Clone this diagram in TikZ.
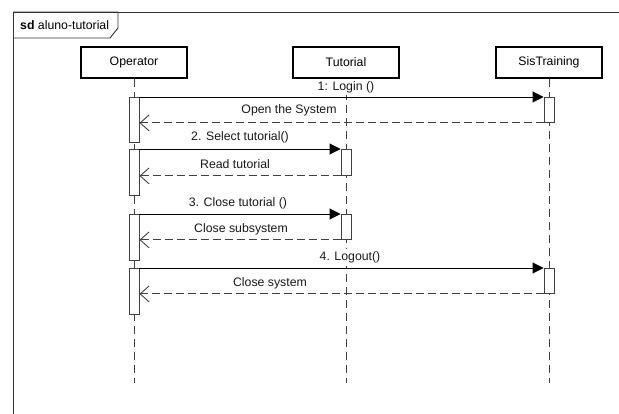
\documentclass[tikz,border=0pt]{standalone}
\usepackage{fontspec}
\setmainfont{Liberation Sans}
\usetikzlibrary{arrows.meta}
\begin{document}
\begin{tikzpicture}[x=1pt,y=-1pt,
  font=\fontsize{12.3}{14}\selectfont,
  lifebox/.style={draw=black,line width=1.6pt,fill=white,minimum width=106pt,minimum height=31pt,inner sep=0pt},
  actbar/.style={draw=black!75,line width=0.9pt,fill=white,minimum width=10pt,inner sep=0pt},
  lifeline/.style={draw=black!75,line width=0.9pt,dash pattern=on 8pt off 5pt},
  callmsg/.style={draw=black,line width=0.9pt,-{Triangle[length=11pt,width=11pt]}},
  retmsg/.style={draw=black!75,line width=0.9pt,dash pattern=on 8pt off 4pt,-{Straight Barb[length=9pt,width=16pt,line width=0.9pt]}},
  msglabel/.style={inner xsep=1pt,inner ysep=2.5pt,fill=white,text=black!90}]
\useasboundingbox (0,0) rectangle (619,414);
% frame
\draw[line width=0.9pt,black!80] (13,414) -- (13,12) -- (619,12);
\draw[line width=0.9pt,black!80] (13,12) -- (118,12) -- (118,28) -- (110,38) -- (13,38);
\node[anchor=west,inner sep=0pt] (title) at (20,25) {\textbf{sd} aluno-tutorial};
% lifeline heads
\node[lifebox] (op) at (134,62.5) {Operator};
\node[lifebox] (tut) at (346,62.5) {Tutorial};
\node[lifebox] (sis) at (549,62.5) {SisTraining};
\coordinate (opEnd) at (134,383);
\coordinate (tutEnd) at (346,383);
\coordinate (sisEnd) at (549,383);
\draw[lifeline] (op.south) -- (opEnd);
\draw[lifeline] (tut.south) -- (tutEnd);
\draw[lifeline] (sis.south) -- (sisEnd);
% labels (white background hides lifelines behind them)
\node[msglabel] (m1) at (346,87) {1: Login ()};
\node[msglabel] (r1) at (289,110) {Open the System};
\node[msglabel] (m2) at (240,137.5) {2. Select tutorial()};
\node[msglabel] (r2) at (235,164) {Read tutorial};
\node[msglabel] (m3) at (238,203) {3. Close tutorial ()};
\node[msglabel] (r3) at (241,229) {Close subsystem};
\node[msglabel] (m4) at (350,257.5) {4. Logout()};
\node[msglabel] (r4) at (270,283) {Close system};
% activation bars
\node[actbar,anchor=north,minimum height=45pt] (opA1) at (134,97) {};
\node[actbar,anchor=north,minimum height=46pt] (opA2) at (134,149) {};
\node[actbar,anchor=north,minimum height=46pt] (opA3) at (134,214) {};
\node[actbar,anchor=north,minimum height=46pt] (opA4) at (134,268) {};
\node[actbar,anchor=north,minimum height=25pt] (sisA1) at (549,97) {};
\node[actbar,anchor=north,minimum height=26pt] (tutA1) at (346,149) {};
\node[actbar,anchor=north,minimum height=25pt] (tutA2) at (346,214) {};
\node[actbar,anchor=north,minimum height=25pt] (sisA2) at (549,268) {};
% messages
\draw[callmsg] (opA1.north east) -- (sisA1.north west);
\draw[retmsg] (sisA1.south west) -- (opA1.east |- sisA1.south);
\draw[callmsg] (opA2.north east) -- (tutA1.north west);
\draw[retmsg] (tutA1.south west) -- (opA2.east |- tutA1.south);
\draw[callmsg] (opA3.north east) -- (tutA2.north west);
\draw[retmsg] (tutA2.south west) -- (opA3.east |- tutA2.south);
\draw[callmsg] (opA4.north east) -- (sisA2.north west);
\draw[retmsg] (sisA2.south west) -- (opA4.east |- sisA2.south);
\end{tikzpicture}
\end{document}
